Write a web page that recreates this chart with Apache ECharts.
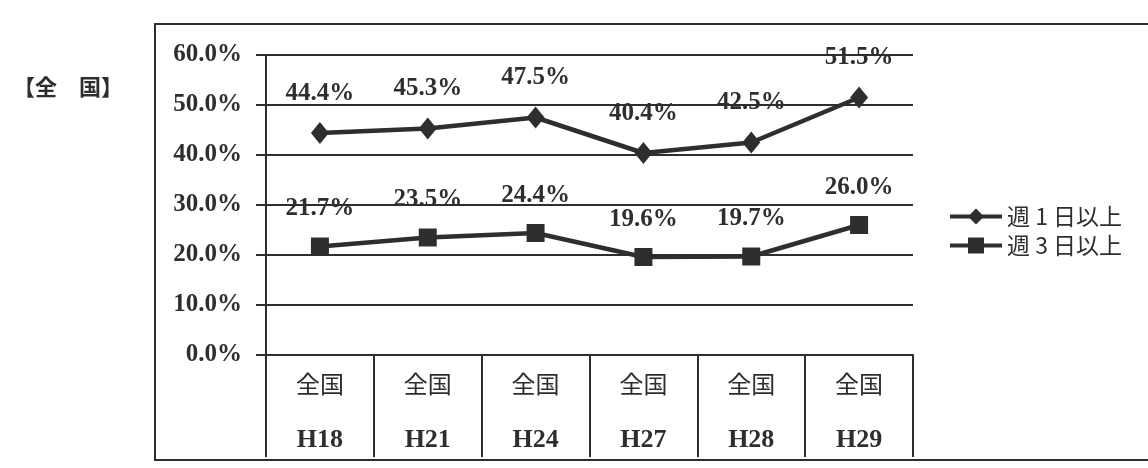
<!DOCTYPE html>
<html>
<head>
<meta charset="utf-8">
<script src="https://cdn.jsdelivr.net/npm/echarts@6/dist/echarts.min.js"></script>
<style>
html,body{margin:0;padding:0;background:#fff;}
#c{width:1148px;height:468px;}
</style>
</head>
<body>
<div id="c"></div>
<script>
var categories = ['H18', 'H21', 'H24', 'H27', 'H28', 'H29'];
var categoryTop = '全国';
var seriesNames = ['週 1 日以上', '週 3 日以上'];
var weekly1 = [44.4, 45.3, 47.5, 40.4, 42.5, 51.5];
var weekly3 = [21.7, 23.5, 24.4, 19.6, 19.7, 26.0];
var yTicks = { min: 0, max: 60, interval: 10 };
var titleText = '【全　国】';

var ink = '#2e2e2e';
var serif = "'Liberation Serif', 'DejaVu Serif', 'Noto Sans CJK JP', serif";
var cjk = "'Noto Sans CJK JP', sans-serif";

var chart = echarts.init(document.getElementById('c'), null, { renderer: 'canvas' });

var labelStyle = {
  show: true,
  position: 'top',
  distance: 16,
  fontFamily: serif,
  fontWeight: 'bold',
  fontSize: 25,
  color: ink,
  formatter: function (p) { return p.value.toFixed(1) + '%'; }
};

chart.setOption({
  backgroundColor: '#ffffff',
  animation: false,
  title: {
    text: titleText,
    left: 8,
    top: 71,
    textStyle: { fontFamily: cjk, fontSize: 22, fontWeight: 'bold', color: ink }
  },
  graphic: [{
    type: 'rect',
    shape: { x: 155, y: 24, width: 1010, height: 436 },
    style: { fill: 'none', stroke: ink, lineWidth: 2 },
    z: -1
  }],
  legend: {
    orient: 'vertical',
    left: 943,
    top: 200,
    itemWidth: 52,
    itemHeight: 20,
    itemGap: 6,
    lineStyle: { width: 4 },
    textStyle: { fontFamily: cjk, fontSize: 23, color: ink },
    data: seriesNames
  },
  grid: { left: 266, right: 235, top: 55, bottom: 113, containLabel: false },
  xAxis: {
    type: 'category',
    data: categories,
    boundaryGap: true,
    axisLine: { show: true, lineStyle: { color: ink, width: 2 } },
    axisTick: { show: true, length: 102, interval: 0, alignWithLabel: false, lineStyle: { color: ink, width: 2 } },
    axisLabel: {
      interval: 0,
      margin: 0,
      formatter: function (v) { return '{a|' + categoryTop + '}\n{b|' + v + '}'; },
      rich: {
        a: { fontFamily: cjk, fontSize: 24, lineHeight: 57, color: ink },
        b: { fontFamily: serif, fontWeight: 'bold', fontSize: 26, lineHeight: 57, color: ink }
      }
    },
    splitLine: { show: false }
  },
  yAxis: {
    type: 'value',
    min: yTicks.min,
    max: yTicks.max,
    interval: yTicks.interval,
    axisLine: { show: true, lineStyle: { color: ink, width: 2 } },
    axisTick: { show: true, length: 10, lineStyle: { color: ink, width: 2 } },
    axisLabel: {
      margin: 24,
      fontFamily: serif,
      fontWeight: 'bold',
      fontSize: 25,
      color: ink,
      formatter: function (v) { return v.toFixed(1) + '%'; }
    },
    splitLine: { show: true, lineStyle: { color: ink, width: 2 } }
  },
  series: [
    {
      name: seriesNames[0],
      type: 'line',
      data: weekly1,
      symbol: 'diamond',
      symbolSize: [18, 22],
      lineStyle: { color: ink, width: 4.5 },
      itemStyle: { color: ink },
      label: labelStyle,
      z: 3
    },
    {
      name: seriesNames[1],
      type: 'line',
      data: weekly3,
      symbol: 'rect',
      symbolSize: 18,
      lineStyle: { color: ink, width: 4.5 },
      itemStyle: { color: ink },
      label: labelStyle,
      z: 3
    }
  ]
});
</script>
</body>
</html>
